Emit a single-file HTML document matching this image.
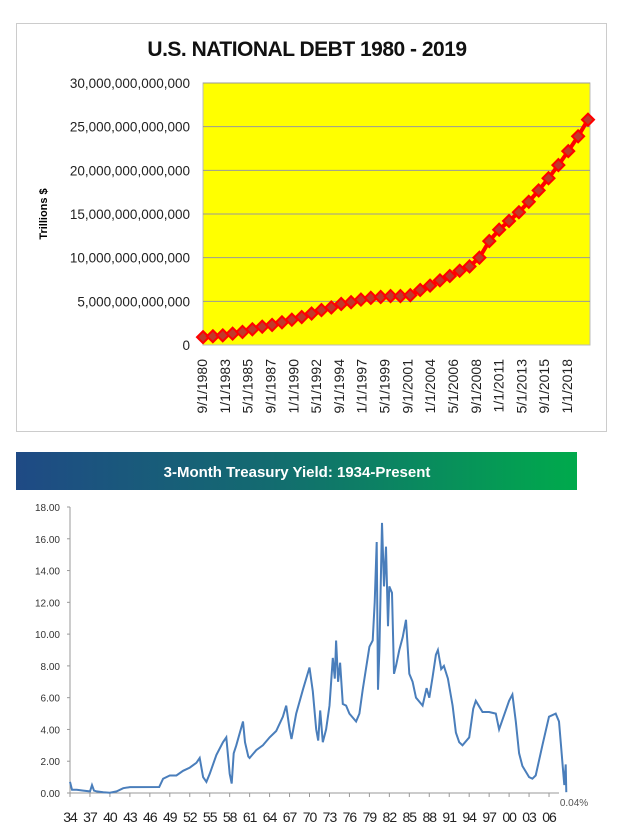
<!DOCTYPE html>
<html><head><meta charset="utf-8"><style>
body{margin:0;background:#fff;width:621px;height:828px;overflow:hidden;font-family:"Liberation Sans",sans-serif}
svg{position:absolute;left:0;top:0}
</style></head><body>
<svg width="621" height="828">
<g id="top">
<rect x="16.5" y="23.5" width="590" height="408" fill="#fff" stroke="#999" stroke-dasharray="1,1"/>
<text x="307" y="56" text-anchor="middle" font-size="21" font-weight="bold" fill="#111" style="letter-spacing:-0.5px">U.S. NATIONAL DEBT 1980 - 2019</text>
<rect x="203" y="83" width="387" height="262" fill="#ffff00" stroke="#bbb"/>
<text transform="translate(47,214) rotate(-90)" text-anchor="middle" font-size="11" font-weight="bold">Trillions $</text>
<g id="tgrid"></g><g id="tyl"></g><g id="txl"></g><g id="tser"></g>
</g>
<g id="bot">
<defs><linearGradient id="hg" x1="0" x2="1"><stop offset="0" stop-color="#1f4a85"/><stop offset="0.45" stop-color="#136b70"/><stop offset="1" stop-color="#00aa4c"/></linearGradient></defs>
<rect x="16" y="452" width="561" height="38" fill="url(#hg)"/>
<text x="297" y="477" text-anchor="middle" font-size="15" font-weight="bold" fill="#fff">3-Month Treasury Yield: 1934-Present</text>
<line x1="70" y1="507" x2="70" y2="793" stroke="#999"/>
<line x1="70" y1="793" x2="559" y2="793" stroke="#999"/>
<g id="byl"></g><g id="bxl"></g>
<path id="bser" fill="none" stroke="#4a7ebb" stroke-width="2"/>
<text x="574" y="806" text-anchor="middle" font-size="10" fill="#555">0.04%</text>
</g>
</svg>
<script>
const NS="http://www.w3.org/2000/svg";
// top chart data (trillions $), 1980..2019
const debtYears=[];for(let y=1980;y<=2019;y++)debtYears.push(y);
const debtValues=[0.9,1.0,1.1,1.3,1.5,1.8,2.1,2.3,2.6,2.9,3.2,3.6,4.0,4.3,4.7,4.9,5.2,5.4,5.5,5.6,5.6,5.7,6.3,6.8,7.4,7.9,8.5,9.0,10.0,11.9,13.2,14.2,15.2,16.4,17.7,19.1,20.6,22.2,23.9,25.8];
const debtTicks=[0,5,10,15,20,25,30];
const debtTickLabels=["0","5,000,000,000,000","10,000,000,000,000","15,000,000,000,000","20,000,000,000,000","25,000,000,000,000","30,000,000,000,000"];
const debtXLabels=["9/1/1980","1/1/1983","5/1/1985","9/1/1987","1/1/1990","5/1/1992","9/1/1994","1/1/1997","5/1/1999","9/1/2001","1/1/2004","5/1/2006","9/1/2008","1/1/2011","5/1/2013","9/1/2015","1/1/2018"];
// bottom chart data
const yieldYears=[1934,1934.3,1935,1936,1937,1937.3,1937.6,1938,1939,1940,1941,1942,1943,1947.4,1948,1949,1950,1951,1952,1953,1953.5,1954,1954.5,1955,1956,1957,1957.5,1958,1958.3,1958.6,1959,1960,1960.3,1960.8,1961,1962,1963,1964,1965,1966,1966.5,1967,1967.3,1968,1969,1970,1970.5,1971,1971.3,1971.6,1972,1972.5,1973,1973.5,1973.8,1974,1974.3,1974.6,1975,1975.5,1976,1977,1977.5,1978,1979,1979.5,1979.8,1980.1,1980.3,1980.5,1980.9,1981.2,1981.5,1981.8,1982,1982.4,1982.7,1983,1983.5,1984,1984.5,1985,1985.5,1986,1987,1987.6,1988,1988.5,1989,1989.3,1989.8,1990.2,1990.8,1991.5,1992,1992.5,1993,1994,1994.6,1995,1996,1997,1998,1998.5,1999,2000,2000.5,2001,2001.5,2002,2003,2003.5,2004,2005,2006,2007,2007.5,2007.8,2008,2008.3,2008.5,2008.6];
const yieldValues=[0.7,0.2,0.2,0.15,0.1,0.5,0.15,0.1,0.05,0.02,0.1,0.3,0.37,0.38,0.9,1.1,1.1,1.4,1.6,1.9,2.2,1.0,0.7,1.2,2.4,3.2,3.5,1.2,0.6,2.5,3.0,4.5,3.2,2.3,2.2,2.7,3.0,3.5,3.9,4.8,5.5,4.0,3.4,5.0,6.5,7.9,6.4,4.0,3.3,5.2,3.2,4.0,5.5,8.5,7.2,9.6,7.0,8.2,5.6,5.5,5.0,4.5,5.0,6.5,9.2,9.6,12.0,15.8,6.5,9.0,17.0,13.0,15.5,10.5,13.0,12.6,7.5,8.0,9.0,9.8,10.9,7.5,7.0,6.0,5.5,6.6,6.0,7.3,8.7,9.0,7.8,8.0,7.2,5.5,3.8,3.2,3.0,3.5,5.3,5.8,5.1,5.1,5.0,4.0,4.6,5.8,6.2,4.5,2.5,1.7,1.0,0.9,1.1,3.0,4.8,5.0,4.5,3.0,2.0,0.5,1.8,0.05];
const yieldTicks=[0,2,4,6,8,10,12,14,16,18];
const yieldXLabels=["34","37","40","43","46","49","52","55","58","61","64","67","70","73","76","79","82","85","88","91","94","97","00","03","06"];

function el(t,a,p){const e=document.createElementNS(NS,t);for(const k in a)e.setAttribute(k,a[k]);p.appendChild(e);return e;}
const tx=i=>203+i*(588-203)/(debtValues.length-1);
const ty=v=>345-v/30*262;
debtTicks.forEach((v,i)=>{
 if(v>0){const g=el('line',{x1:203,x2:590,y1:ty(v),y2:ty(v),stroke:'#999','stroke-width':1},document.getElementById('tgrid'));
 
 }
 const t=el('text',{x:190,y:ty(v)+5,'text-anchor':'end','font-size':'13.5',fill:'#222'},document.getElementById('tyl'));
 t.textContent=debtTickLabels[i];
 
 
});
debtXLabels.forEach((s,i)=>{
 const x=202+i*(567-202)/(debtXLabels.length-1);
 const t=el('text',{transform:`translate(${x+5},359) rotate(-90)`,'text-anchor':'end','font-size':'14',fill:'#222'},document.getElementById('txl'));
 t.textContent=s;
 
 
});
const ts=document.getElementById('tser');
const pl=el('polyline',{points:debtValues.map((v,i)=>tx(i)+','+ty(v)).join(' '),fill:'none',stroke:'#ff0000','stroke-width':4},ts);


debtValues.forEach((v,i)=>{
 const x=tx(i),y=ty(v);
 const m=el('polygon',{points:`${x},${y-6} ${x+6},${y} ${x},${y+6} ${x-6},${y}`,fill:'#c0392b',stroke:'#ff0000','stroke-width':2},ts);
 
 
});
const bx=y=>70+(y-1934)*(559-70)/73.5;
const by=v=>793-v/18*286;
yieldTicks.forEach(v=>{
 const t=el('text',{x:60,y:by(v)+4,'text-anchor':'end','font-size':'10',fill:'#333'},document.getElementById('byl'));
 t.textContent=v.toFixed(2);
 
 
 const k=el('line',{x1:67,x2:70,y1:by(v),y2:by(v),stroke:'#999'},document.getElementById('byl'));
 
 
});
yieldXLabels.forEach((s,i)=>{
 const x=bx(1934+i*3);
 const t=el('text',{x:x,y:822,'text-anchor':'middle','font-size':'14',fill:'#222','letter-spacing':'-1'},document.getElementById('bxl'));
 t.textContent=s;
 
 
 const k=el('line',{x1:x,x2:x,y1:793,y2:797,stroke:'#999'},document.getElementById('bxl'));
 
 
});
document.getElementById('bser').setAttribute('d',yieldValues.map((v,i)=>(i?'L':'M')+bx(yieldYears[i]).toFixed(1)+','+by(v).toFixed(1)).join(''));
</script>
</body></html>
